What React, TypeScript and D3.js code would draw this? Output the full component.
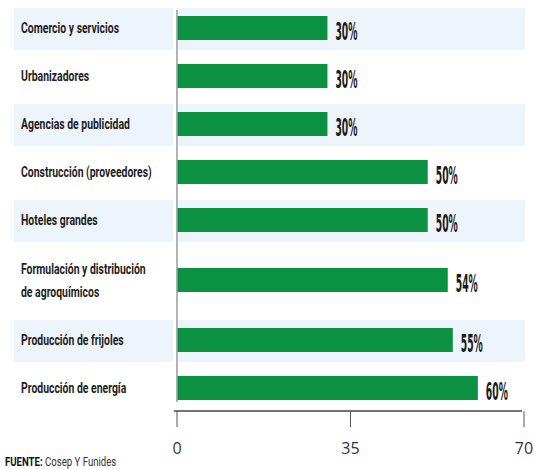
import React from "react";
import * as d3 from "d3";

const categories = [
  "Comercio y servicios",
  "Urbanizadores",
  "Agencias de publicidad",
  "Construcción (proveedores)",
  "Hoteles grandes",
  "Formulación y distribución|de agroquímicos",
  "Producción de frijoles",
  "Producción de energía",
];
const values = [30, 30, 30, 50, 50, 54, 55, 60];
const tickValues = [0, 35, 70];
const sourceLabel = "FUENTE:";
const sourceText = " Cosep Y Funides";

const W = 536;
const H = 469;
const GREEN = "#0b9142";
const BAND = "#edf4fb";
const LABEL_FONT = "Roboto, 'DejaVu Sans Condensed', sans-serif";
const VALUE_FONT = "'DejaVu Sans Condensed', Roboto, sans-serif";

export default function App() {
  const x = d3.scaleLinear().domain([0, 70]).range([177, 528]);
  const xAxis = d3.scaleLinear().domain([0, 70]).range([177, 524]);
  const lines = categories.map((c) => c.split("|"));
  const heights = lines.map((l) => (l.length > 1 ? 72 : 48));
  const tops: number[] = [];
  let acc = 4;
  heights.forEach((h) => {
    tops.push(acc);
    acc += h;
  });
  const bottom = acc;
  const axisY = 411;
  const barH = 24;

  return (
    <svg width={W} height={H} style={{ position: "absolute", left: 0, top: 0, background: "#fff" }}>
      {lines.map((l, i) =>
        i % 2 === 0 ? (
          <g key={"bg" + i}>
            <rect x={14} y={tops[i] + 4} width={159} height={heights[i] - 6} fill={BAND} />
            <rect x={178} y={tops[i] + 4} width={347} height={heights[i] - 6} fill={BAND} />
          </g>
        ) : null
      )}
      {lines.map((l, i) => {
        const cy = tops[i] + heights[i] / 2;
        const v = values[i];
        return (
          <g key={"r" + i}>
            <rect x={x(0)} y={cy - barH / 2} width={x(v) - x(0)} height={barH} fill={GREEN} />
            {l.map((t, j) => (
              <text
                key={j}
                transform={`translate(21,${cy + 5 + (j - (l.length - 1) / 2) * 23}) scale(0.72,1)`}
                fontFamily={LABEL_FONT}
                fontWeight={700}
                fontSize={14.5}
                fill="#1d1d1d"
              >
                {t}
              </text>
            ))}
            <text
              transform={`translate(${x(v) + 8},${cy + 12}) scale(0.41,1)`}
              fontFamily={VALUE_FONT}
              fontWeight={700}
              fontSize={25}
              fill="#1a1a1a"
            >
              {v + "%"}
            </text>
          </g>
        );
      })}
      <line x1={177} x2={177} y1={10} y2={bottom - 10} stroke="#9a9a9a" strokeWidth={1.5} />
      <line x1={174} x2={522} y1={axisY} y2={axisY} stroke="#444" strokeWidth={1.3} />
      {tickValues.map((t) => {
        const tx = xAxis(t);
        return (
          <g key={"t" + t}>
            <line x1={tx} x2={tx} y1={axisY} y2={427} stroke="#555" strokeWidth={1} />
            <text
              x={Math.min(tx, 526)}
              y={454}
              textAnchor="middle"
              fontFamily="'Open Sans', sans-serif"
              fontSize={16}
              fill="#333"
            >
              {t}
            </text>
          </g>
        );
      })}
      <text transform="translate(5,466) scale(0.8,1)" fontFamily={LABEL_FONT} fontSize={12} fill="#333">
        <tspan fontWeight={700} fill="#111">{sourceLabel}</tspan>
        <tspan>{sourceText}</tspan>
      </text>
    </svg>
  );
}
